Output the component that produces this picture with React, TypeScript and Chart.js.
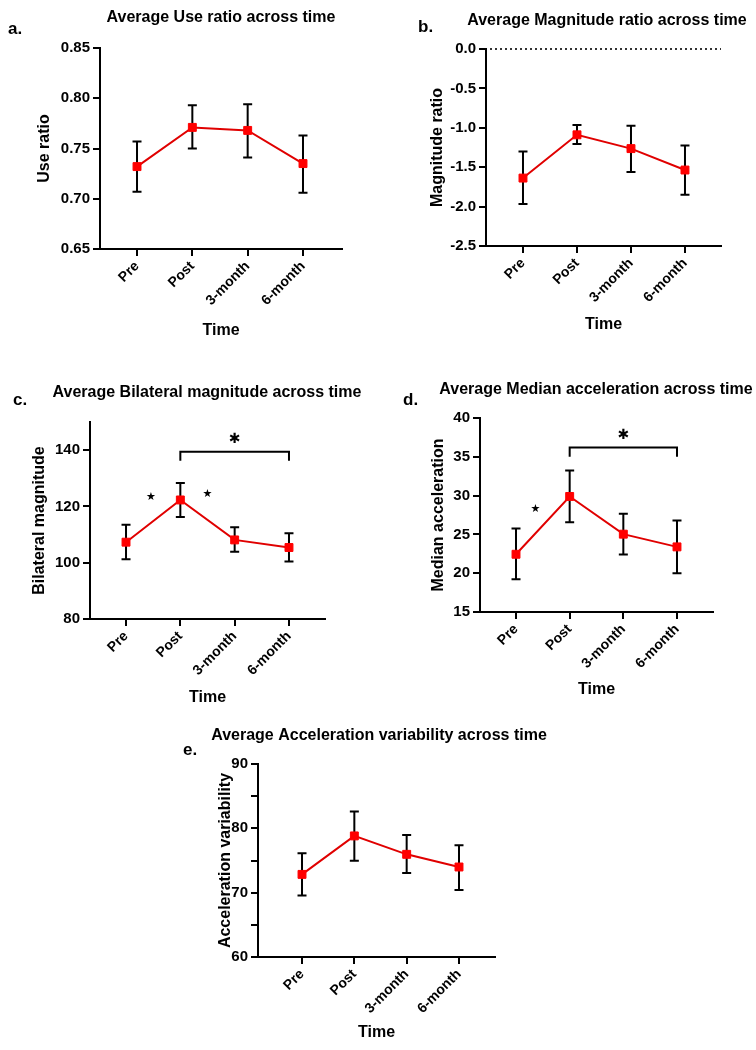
import React, { useEffect, useRef } from "react";
import { Chart, registerables } from "chart.js";

Chart.register(...registerables);

const FONT = "'Liberation Sans', Arial, Helvetica, sans-serif";

const timepoints = ["Pre", "Post", "3-month", "6-month"];

// a. Use ratio
const useMean = [0.732, 0.771, 0.768, 0.735];
const useLow = [0.707, 0.75, 0.741, 0.706];
const useHigh = [0.757, 0.793, 0.794, 0.763];
const useTicks = [0.65, 0.7, 0.75, 0.8, 0.85];

// b. Magnitude ratio
const magMean = [-1.638, -1.089, -1.264, -1.536];
const magLow = [-1.966, -1.204, -1.562, -1.851];
const magHigh = [-1.302, -0.966, -0.974, -1.226];
const magTicks = [-2.5, -2, -1.5, -1, -0.5, 0];

// c. Bilateral magnitude
const bilMean = [107.3, 122.3, 108.1, 105.4];
const bilLow = [101.2, 116.2, 103.9, 100.4];
const bilHigh = [113.5, 128.3, 112.6, 110.5];
const bilTicks = [80, 100, 120, 140];
const bilStars = [
  { x: 0.46, y: 123.3, big: false },
  { x: 1.5, y: 124.3, big: false },
  { x: 2, y: 143.9, big: true },
];
const bilBracket = { from: 1, to: 3, y: 139.4, foot: 136.2 };

// d. Median acceleration
const accMean = [22.44, 29.89, 25.03, 23.39];
const accLow = [19.22, 26.57, 22.4, 19.99];
const accHigh = [25.76, 33.24, 27.65, 26.79];
const accTicks = [15, 20, 25, 30, 35, 40];
const accStars = [
  { x: 0.36, y: 28.2, big: false },
  { x: 2, y: 37.7, big: true },
];
const accBracket = { from: 1, to: 3, y: 36.2, foot: 35.0 };

// e. Acceleration variability
const varMean = [72.84, 78.82, 75.96, 73.99];
const varLow = [69.57, 74.97, 73.05, 70.4];
const varHigh = [76.12, 82.62, 78.98, 77.37];
const varTicks = [60, 65, 70, 75, 80, 85, 90];
const varLabelled = [60, 70, 80, 90];

type Star = { x: number; y: number; big: boolean };
type Bracket = { from: number; to: number; y: number; foot: number };

interface Panel {
  letter: string;
  title: string;
  yTitle: string;
  mean: number[];
  low: number[];
  high: number[];
  ticks: number[];
  yMax?: number;
  labelled?: number[];
  digits: number;
  stars?: Star[];
  bracket?: Bracket;
  zeroLine?: boolean;
  box: { x: number; y: number; w: number; h: number };
  plot: { l: number; r: number; t: number; b: number };
  xMin: number;
  xMax: number;
  yTitleX: number;
  xTitleY: number;
  titleX: number;
  titleY: number;
  letterX: number;
  letterY: number;
}

const panels: Panel[] = [
  {
    letter: "a.", title: "Average Use ratio across time", yTitle: "Use ratio",
    mean: useMean, low: useLow, high: useHigh, ticks: useTicks, digits: 2,
    box: { x: 0, y: 0, w: 378, h: 360 },
    plot: { l: 100, r: 342, t: 48, b: 249 },
    xMin: -0.669, xMax: 3.705,
    yTitleX: 45, xTitleY: 331, titleX: 221, titleY: 22, letterX: 8, letterY: 34,
  },
  {
    letter: "b.", title: "Average Magnitude ratio across time", yTitle: "Magnitude ratio",
    mean: magMean, low: magLow, high: magHigh, ticks: magTicks, digits: 1, zeroLine: true,
    box: { x: 378, y: 0, w: 378, h: 360 },
    plot: { l: 486, r: 721, t: 49, b: 246 },
    xMin: -0.685, xMax: 3.667,
    yTitleX: 438, xTitleY: 325, titleX: 607, titleY: 25, letterX: 418, letterY: 32,
  },
  {
    letter: "c.", title: "Average Bilateral magnitude across time", yTitle: "Bilateral magnitude",
    mean: bilMean, low: bilLow, high: bilHigh, ticks: bilTicks, yMax: 150, digits: 0,
    stars: bilStars, bracket: bilBracket,
    box: { x: 0, y: 360, w: 378, h: 360 },
    plot: { l: 90, r: 325, t: 422, b: 619 },
    xMin: -0.663, xMax: 3.663,
    yTitleX: 40, xTitleY: 698, titleX: 207, titleY: 397, letterX: 13, letterY: 405,
  },
  {
    letter: "d.", title: "Average Median acceleration across time", yTitle: "Median acceleration",
    mean: accMean, low: accLow, high: accHigh, ticks: accTicks, digits: 0,
    stars: accStars, bracket: accBracket,
    box: { x: 378, y: 360, w: 378, h: 360 },
    plot: { l: 480, r: 713, t: 418, b: 612 },
    xMin: -0.671, xMax: 3.671,
    yTitleX: 439, xTitleY: 690, titleX: 596, titleY: 394, letterX: 403, letterY: 405,
  },
  {
    letter: "e.", title: "Average Acceleration variability across time", yTitle: "Acceleration variability",
    mean: varMean, low: varLow, high: varHigh, ticks: varTicks, labelled: varLabelled, digits: 0,
    box: { x: 160, y: 715, w: 420, h: 335 },
    plot: { l: 258, r: 495, t: 764, b: 957 },
    xMin: -0.841, xMax: 3.688,
    yTitleX: 226, xTitleY: 1033, titleX: 379, titleY: 740, letterX: 183, letterY: 755,
  },
];

// black SEM bars behind the red line
const errorBars = {
  id: "errorBars",
  beforeDatasetsDraw(chart: any, _args: any, opts: any) {
    const { ctx } = chart;
    const x = chart.scales.x;
    const y = chart.scales.y;
    ctx.save();
    ctx.strokeStyle = "#000";
    ctx.lineWidth = 2;
    opts.low.forEach((lo: number, i: number) => {
      const px = x.getPixelForValue(i);
      const top = y.getPixelForValue(opts.high[i]);
      const bot = y.getPixelForValue(lo);
      ctx.beginPath();
      ctx.moveTo(px, top);
      ctx.lineTo(px, bot);
      ctx.moveTo(px - 4.5, top);
      ctx.lineTo(px + 4.5, top);
      ctx.moveTo(px - 4.5, bot);
      ctx.lineTo(px + 4.5, bot);
      ctx.stroke();
    });
    ctx.restore();
  },
};

// titles, panel letters, significance marks, dotted zero line
const decor = {
  id: "decor",
  beforeDatasetsDraw(chart: any, _args: any, opts: any) {
    if (!opts.zeroLine) return;
    const { ctx, chartArea } = chart;
    const py = chart.scales.y.getPixelForValue(0);
    ctx.save();
    ctx.strokeStyle = "#333";
    ctx.lineWidth = 2;
    ctx.setLineDash([2, 3]);
    ctx.beginPath();
    ctx.moveTo(chartArea.left + 4, py);
    ctx.lineTo(chartArea.right, py);
    ctx.stroke();
    ctx.restore();
  },
  afterDraw(chart: any, _args: any, opts: any) {
    const { ctx } = chart;
    const x = chart.scales.x;
    const y = chart.scales.y;
    ctx.save();
    ctx.fillStyle = "#000";
    ctx.textAlign = "center";
    ctx.textBaseline = "alphabetic";
    ctx.font = `bold 16px ${FONT}`;
    ctx.fillText(opts.title, opts.titleX, opts.titleY);
    ctx.textAlign = "left";
    ctx.font = `bold 17px ${FONT}`;
    ctx.fillText(opts.letter, opts.letterX, opts.letterY);

    if (opts.bracket) {
      const b = opts.bracket;
      const x1 = x.getPixelForValue(b.from);
      const x2 = x.getPixelForValue(b.to);
      const by = y.getPixelForValue(b.y);
      const fy = y.getPixelForValue(b.foot);
      ctx.strokeStyle = "#000";
      ctx.lineWidth = 2;
      ctx.beginPath();
      ctx.moveTo(x1, fy);
      ctx.lineTo(x1, by);
      ctx.lineTo(x2, by);
      ctx.lineTo(x2, fy);
      ctx.stroke();
    }
    (opts.stars || []).forEach((s: Star) => {
      ctx.textAlign = "center";
      ctx.textBaseline = "middle";
      ctx.font = s.big ? "bold 14px 'DejaVu Sans'" : "11px 'DejaVu Sans'";
      ctx.fillText(s.big ? "\u2731" : "\u2605", x.getPixelForValue(s.x), y.getPixelForValue(s.y));
    });
    ctx.restore();
  },
};

const PanelChart: React.FC<{ p: Panel }> = ({ p }) => {
  const canvasRef = useRef<HTMLCanvasElement | null>(null);

  useEffect(() => {
    if (!canvasRef.current) return;
    const half = (16 * 1.2) / 2;
    const padLeft = p.yTitleX - half - p.box.x;
    const yW = p.plot.l - p.box.x - padLeft;
    const padTop = p.plot.t - p.box.y;
    const padRight = p.box.x + p.box.w - p.plot.r;
    const xH = p.xTitleY + half - p.plot.b;
    const padBottom = p.box.y + p.box.h - (p.plot.b + xH);
    const shown = p.labelled || p.ticks;

    const chart = new Chart(canvasRef.current, {
      type: "line",
      data: {
        datasets: [
          {
            data: p.mean.map((v, i) => ({ x: i, y: v })),
            borderColor: "#e00000",
            borderWidth: 2,
            pointStyle: "rect",
            pointRadius: 5.6,
            pointBackgroundColor: "#ff0000",
            pointBorderColor: "#ff0000",
            pointBorderWidth: 1,
            tension: 0,
            clip: false as any,
          },
        ],
      },
      options: {
        responsive: false,
        animation: false,
        layout: {
          padding: { left: padLeft, right: padRight, top: padTop, bottom: padBottom },
        },
        plugins: {
          legend: { display: false },
          tooltip: { enabled: false },
          errorBars: { low: p.low, high: p.high },
          decor: {
            title: p.title,
            letter: p.letter,
            titleX: p.titleX - p.box.x,
            titleY: p.titleY - p.box.y,
            letterX: p.letterX - p.box.x,
            letterY: p.letterY - p.box.y,
            stars: p.stars,
            bracket: p.bracket,
            zeroLine: p.zeroLine,
          },
        } as any,
        scales: {
          x: {
            type: "linear",
            min: p.xMin,
            max: p.xMax,
            afterBuildTicks: (s: any) => {
              s.ticks = timepoints.map((_, i) => ({ value: i }));
            },
            afterFit: (s: any) => {
              s.height = xH;
            },
            ticks: {
              autoSkip: false,
              minRotation: 45,
              maxRotation: 45,
              padding: 2,
              color: "#000",
              font: { family: FONT, size: 14, weight: "bold" },
              callback: (v: any) => timepoints[v] ?? "",
            },
            grid: {
              drawOnChartArea: false,
              drawTicks: true,
              tickLength: 7,
              color: "#000",
              lineWidth: 2,
            },
            border: { display: true, color: "#000", width: 2 },
            title: {
              display: true,
              text: "Time",
              color: "#000",
              font: { family: FONT, size: 16, weight: "bold" },
              padding: 0,
            },
          },
          y: {
            type: "linear",
            min: p.ticks[0],
            max: p.yMax ?? p.ticks[p.ticks.length - 1],
            afterBuildTicks: (s: any) => {
              s.ticks = p.ticks.map((v) => ({ value: v }));
            },
            afterFit: (s: any) => {
              s.width = yW;
            },
            ticks: {
              padding: 3,
              color: "#000",
              font: { family: FONT, size: 15, weight: "bold" },
              callback: (v: any) =>
                shown.some((t) => Math.abs(t - v) < 1e-9) ? Number(v).toFixed(p.digits) : "",
            },
            grid: {
              drawOnChartArea: false,
              drawTicks: true,
              tickLength: 7,
              color: "#000",
              lineWidth: 2,
            },
            border: { display: true, color: "#000", width: 2 },
            title: {
              display: true,
              text: p.yTitle,
              color: "#000",
              font: { family: FONT, size: 16, weight: "bold" },
              padding: 0,
            },
          },
        },
      },
      plugins: [errorBars, decor],
    });

    return () => {
      chart.destroy();
    };
  }, [p]);

  return (
    <canvas
      ref={canvasRef}
      width={p.box.w}
      height={p.box.h}
      style={{
        position: "absolute",
        left: p.box.x,
        top: p.box.y,
        width: p.box.w,
        height: p.box.h,
      }}
    />
  );
};

export default function App() {
  return (
    <div
      style={{
        position: "absolute",
        left: 0,
        top: 0,
        width: 756,
        height: 1050,
        background: "#fff",
        overflow: "hidden",
      }}
    >
      {panels.map((p) => (
        <PanelChart key={p.letter} p={p} />
      ))}
    </div>
  );
}
